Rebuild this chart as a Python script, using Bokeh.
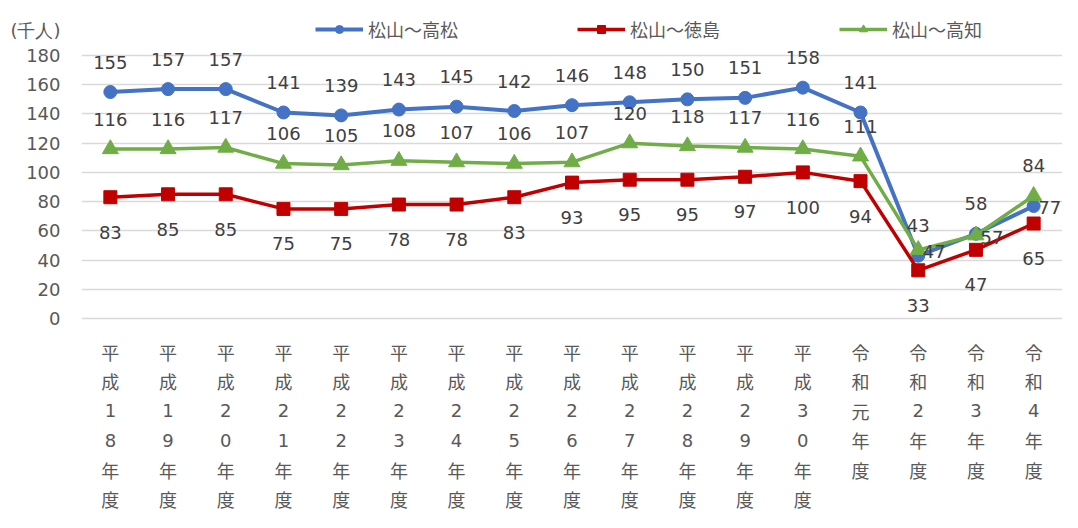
from bokeh.plotting import figure
from bokeh.models import (Range1d, FixedTicker, Legend, LegendItem, LabelSet,
                          Label, ColumnDataSource, Grid)
from bokeh.core.properties import value
from bokeh.embed import file_html
from bokeh.resources import INLINE

# ---------------- data ----------------
categories = ["平成18年度", "平成19年度", "平成20年度", "平成21年度", "平成22年度",
              "平成23年度", "平成24年度", "平成25年度", "平成26年度", "平成27年度",
              "平成28年度", "平成29年度", "平成30年度", "令和元年度", "令和2年度",
              "令和3年度", "令和4年度"]
series_names = ["松山～高松", "松山～徳島", "松山～高知"]
takamatsu = [155, 157, 157, 141, 139, 143, 145, 142, 146, 148, 150, 151, 158, 141, 43, 58, 77]
tokushima = [83, 85, 85, 75, 75, 78, 78, 83, 93, 95, 95, 97, 100, 94, 33, 47, 65]
kochi = [116, 116, 117, 106, 105, 108, 107, 106, 107, 120, 118, 117, 116, 111, 47, 57, 84]
y_ticks = [0, 20, 40, 60, 80, 100, 120, 140, 160, 180]
unit_label = "(千人)"

# data-label placement (style)
takamatsu_pos = ["above"] * 16 + ["right"]
tokushima_pos = ["below"] * 17
kochi_pos = ["above"] * 14 + ["right", "right", "above"]

# ---------------- layout (pixels) ----------------
W, H = 1062, 512
LEFT = 81
PX_TOP180 = 55      # y pixel of value 180
PX_ZERO = 318       # y pixel of value 0
YMAX = 180
frame_w = W - LEFT
xppu = frame_w / len(categories)
yppu = (PX_ZERO - PX_TOP180) / YMAX

GREY = "#595959"
NUM_FONT = "DejaVu Sans"
JP_FONT = "Noto Sans CJK JP"

p = figure(width=W, height=H,
           x_range=Range1d(-0.5, len(categories) - 0.5),
           y_range=Range1d(-(H - PX_ZERO) / yppu, PX_ZERO / yppu),
           output_backend="svg", toolbar_location=None,
           min_border_left=LEFT, min_border_right=0, min_border_top=0,
           min_border_bottom=0)
p.outline_line_color = None
p.background_fill_color = "white"
p.border_fill_color = "white"

p.xaxis.visible = False
p.xgrid.visible = False

p.ygrid.grid_line_color = "#d9d9d9"
p.ygrid.grid_line_width = 1.5
p.ygrid.ticker = FixedTicker(ticks=y_ticks)

# vertical axis line from 0 to 180
vgrid = Grid(dimension=0, ticker=FixedTicker(ticks=[-0.5]), bounds=(0, YMAX),
             grid_line_color="#d9d9d9", grid_line_width=2.5)
p.add_layout(vgrid)

unit_y = (PX_ZERO - 30) / yppu
p.yaxis.ticker = FixedTicker(ticks=y_ticks + [unit_y])
p.yaxis.major_label_overrides = {unit_y: unit_label}
p.yaxis.axis_line_color = None
p.yaxis.major_tick_line_color = None
p.yaxis.minor_tick_line_color = None
p.yaxis.major_label_text_font = NUM_FONT
p.yaxis.major_label_text_font_size = "18px"
p.yaxis.major_label_text_color = GREY
p.yaxis.major_label_standoff = 15

xs = list(range(len(categories)))

styles = [
    (takamatsu, takamatsu_pos, "#4472C4", "circle", 13, 4),
    (tokushima, tokushima_pos, "#C00000", "square", 13, 3.5),
    (kochi, kochi_pos, "#70AD47", "triangle", 16, 3.5),
]

offsets = {"above": (0, 30), "below": (0, -35), "right": (16, -2)}

items = []
for name, (vals, pos, color, marker, size, lw) in zip(series_names, styles):
    lr = p.line(xs, vals, line_color=color, line_width=lw)
    sr = p.scatter(xs, vals, marker=marker, size=size, fill_color=color, line_color=color)
    items.append(LegendItem(label=name, renderers=[lr, sr]))
    src = ColumnDataSource(dict(
        x=xs, y=vals, text=[str(v) for v in vals],
        xo=[offsets[q][0] for q in pos], yo=[offsets[q][1] for q in pos]))
    p.add_layout(LabelSet(x="x", y="y", text="text", x_offset="xo", y_offset="yo",
                          source=src, text_align="center", text_baseline="middle",
                          text_font=value(NUM_FONT), text_font_size="18px",
                          text_color="#404040"))

legend = Legend(items=items, orientation="horizontal", location=(234, 470),
                glyph_width=48, glyph_height=20, label_standoff=5, spacing=119,
                padding=0, margin=0, border_line_color=None,
                background_fill_alpha=0, label_text_font=JP_FONT,
                label_text_font_size="18px", label_text_color=GREY)
p.add_layout(legend)

# vertical category labels, one character per line
for i, cat in enumerate(categories):
    for j, ch in enumerate(cat):
        ypx = 33 + j * 29.5
        font = NUM_FONT if ch.isdigit() else JP_FONT
        p.add_layout(Label(x=i, y=-ypx / yppu, text=ch, text_align="center",
                           text_baseline="middle", text_font=font,
                           text_font_size="18px", text_color=GREY))

open("out.html", "w").write(file_html(p, INLINE))
